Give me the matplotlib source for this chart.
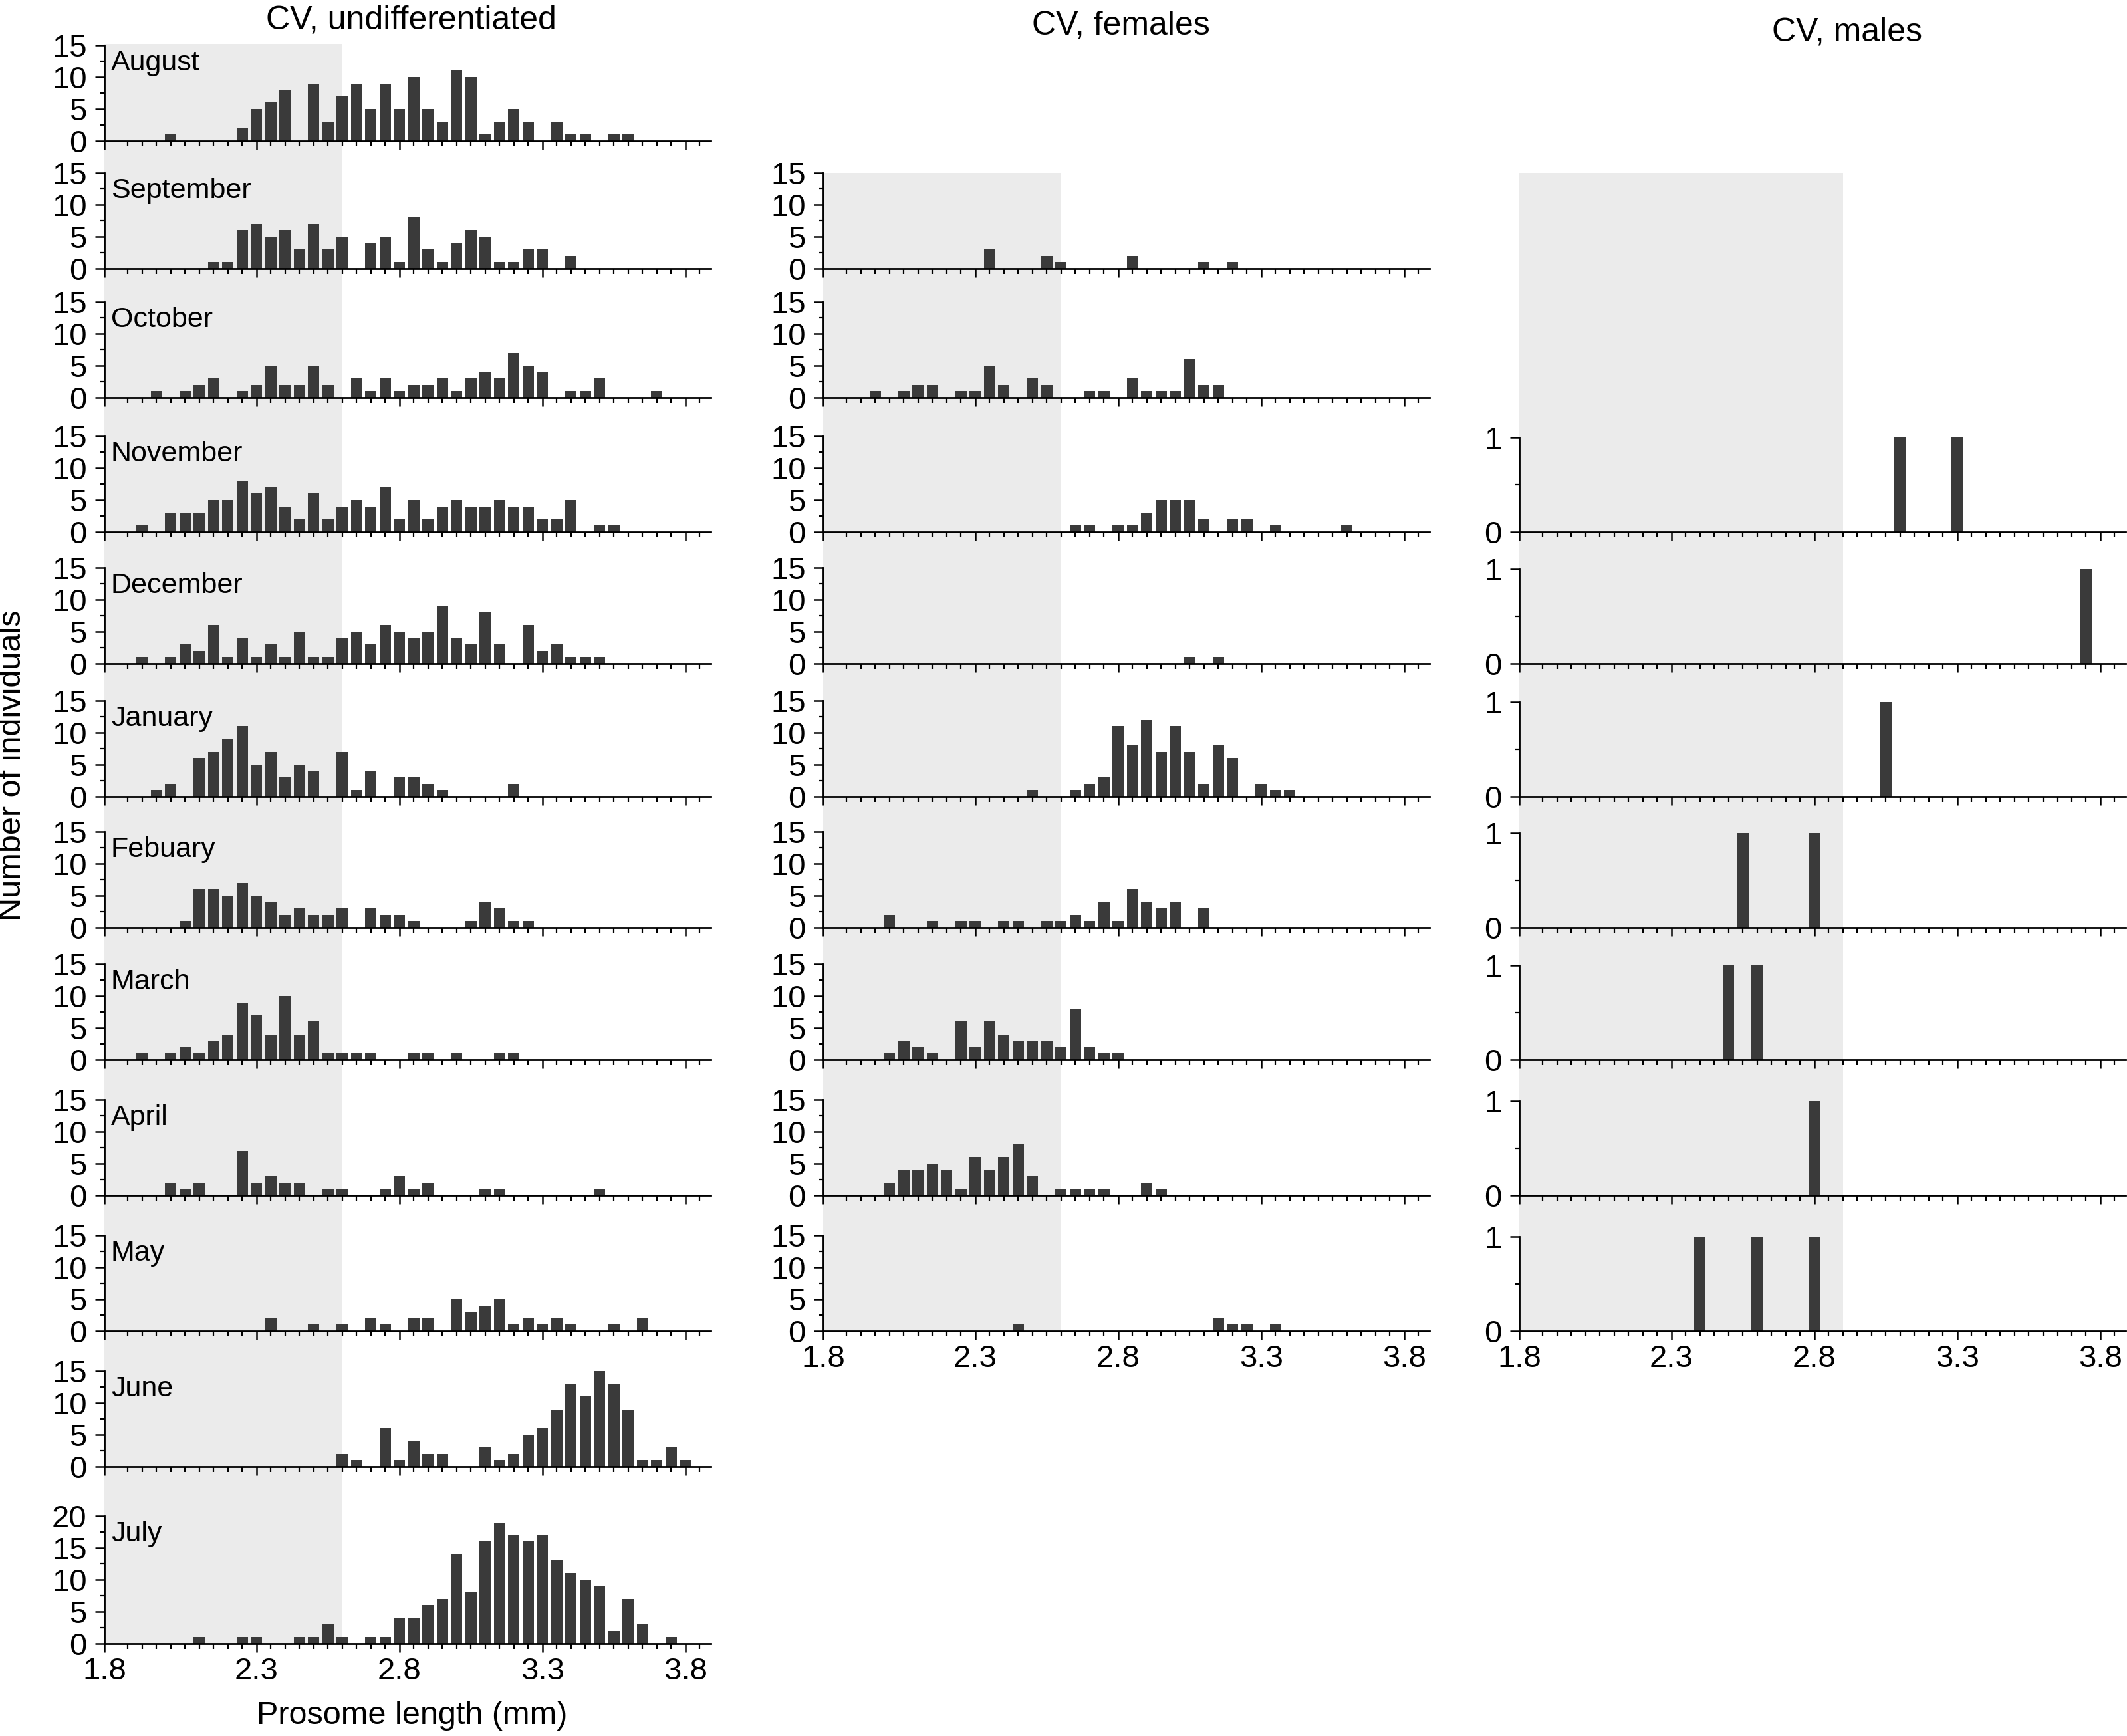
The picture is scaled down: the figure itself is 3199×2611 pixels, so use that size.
import numpy as np
import matplotlib
matplotlib.use("Agg")
import matplotlib.pyplot as plt
from matplotlib.ticker import FixedLocator

plt.rcParams["font.family"] = ["Liberation Sans", "DejaVu Sans"]

# size classes, 0.05 mm wide (bin centres in mm)
bins = np.round(1.80 + 0.05 * np.arange(41), 2)

# CV, undifferentiated (counts per size class)
und_aug = [0,0,0,0,1,0,0,0,0,2, 5,6,8,0,9,3,7,9,5,9, 5,10,5,3,11,10,1,3,5,3, 0,3,1,1,0,1,1,0,0,0, 0]
und_sep = [0,0,0,0,0,0,0,1,1,6, 7,5,6,3,7,3,5,0,4,5, 1,8,3,1,4,6,5,1,1,3, 3,0,2,0,0,0,0,0,0,0, 0]
und_oct = [0,0,0,1,0,1,2,3,0,1, 2,5,2,2,5,2,0,3,1,3, 1,2,2,3,1,3,4,3,7,5, 4,0,1,1,3,0,0,0,1,0, 0]
und_nov = [0,0,1,0,3,3,3,5,5,8, 6,7,4,2,6,2,4,5,4,7, 2,5,2,4,5,4,4,5,4,4, 2,2,5,0,1,1,0,0,0,0, 0]
und_dec = [0,0,1,0,1,3,2,6,1,4, 1,3,1,5,1,1,4,5,3,6, 5,4,5,9,4,3,8,3,0,6, 2,3,1,1,1,0,0,0,0,0, 0]
und_jan = [0,0,0,1,2,0,6,7,9,11, 5,7,3,5,4,0,7,1,4,0, 3,3,2,1,0,0,0,0,2,0, 0,0,0,0,0,0,0,0,0,0, 0]
und_feb = [0,0,0,0,0,1,6,6,5,7, 5,4,2,3,2,2,3,0,3,2, 2,1,0,0,0,1,4,3,1,1, 0,0,0,0,0,0,0,0,0,0, 0]
und_mar = [0,0,1,0,1,2,1,3,4,9, 7,4,10,4,6,1,1,1,1,0, 0,1,1,0,1,0,0,1,1,0, 0,0,0,0,0,0,0,0,0,0, 0]
und_apr = [0,0,0,0,2,1,2,0,0,7, 2,3,2,2,0,1,1,0,0,1, 3,1,2,0,0,0,1,1,0,0, 0,0,0,0,1,0,0,0,0,0, 0]
und_may = [0,0,0,0,0,0,0,0,0,0, 0,2,0,0,1,0,1,0,2,1, 0,2,2,0,5,3,4,5,1,2, 1,2,1,0,0,1,0,2,0,0, 0]
und_jun = [0,0,0,0,0,0,0,0,0,0, 0,0,0,0,0,0,2,1,0,6, 1,4,2,2,0,0,3,1,2,5, 6,9,13,11,15,13,9,1,1,3, 1]
und_jul = [0,0,0,0,0,0,1,0,0,1, 1,0,0,1,1,3,1,0,1,1, 4,4,6,7,14,8,16,19,17,16, 17,13,11,10,9,2,7,3,0,1, 0]

# CV, females
fem_sep = [0,0,0,0,0,0,0,0,0,0, 0,3,0,0,0,2,1,0,0,0, 0,2,0,0,0,0,1,0,1,0, 0,0,0,0,0,0,0,0,0,0, 0]
fem_oct = [0,0,0,1,0,1,2,2,0,1, 1,5,2,0,3,2,0,0,1,1, 0,3,1,1,1,6,2,2,0,0, 0,0,0,0,0,0,0,0,0,0, 0]
fem_nov = [0,0,0,0,0,0,0,0,0,0, 0,0,0,0,0,0,0,1,1,0, 1,1,3,5,5,5,2,0,2,2, 0,1,0,0,0,0,1,0,0,0, 0]
fem_dec = [0,0,0,0,0,0,0,0,0,0, 0,0,0,0,0,0,0,0,0,0, 0,0,0,0,0,1,0,1,0,0, 0,0,0,0,0,0,0,0,0,0, 0]
fem_jan = [0,0,0,0,0,0,0,0,0,0, 0,0,0,0,1,0,0,1,2,3, 11,8,12,7,11,7,2,8,6,0, 2,1,1,0,0,0,0,0,0,0, 0]
fem_feb = [0,0,0,0,2,0,0,1,0,1, 1,0,1,1,0,1,1,2,1,4, 1,6,4,3,4,0,3,0,0,0, 0,0,0,0,0,0,0,0,0,0, 0]
fem_mar = [0,0,0,0,1,3,2,1,0,6, 2,6,4,3,3,3,2,8,2,1, 1,0,0,0,0,0,0,0,0,0, 0,0,0,0,0,0,0,0,0,0, 0]
fem_apr = [0,0,0,0,2,4,4,5,4,1, 6,4,6,8,3,0,1,1,1,1, 0,0,2,1,0,0,0,0,0,0, 0,0,0,0,0,0,0,0,0,0, 0]
fem_may = [0,0,0,0,0,0,0,0,0,0, 0,0,0,1,0,0,0,0,0,0, 0,0,0,0,0,0,0,2,1,1, 0,1,0,0,0,0,0,0,0,0, 0]

# CV, males
mal_nov = [0,0,0,0,0,0,0,0,0,0, 0,0,0,0,0,0,0,0,0,0, 0,0,0,0,0,0,1,0,0,0, 1,0,0,0,0,0,0,0,0,0, 0]
mal_dec = [0,0,0,0,0,0,0,0,0,0, 0,0,0,0,0,0,0,0,0,0, 0,0,0,0,0,0,0,0,0,0, 0,0,0,0,0,0,0,0,0,1, 0]
mal_jan = [0,0,0,0,0,0,0,0,0,0, 0,0,0,0,0,0,0,0,0,0, 0,0,0,0,0,1,0,0,0,0, 0,0,0,0,0,0,0,0,0,0, 0]
mal_feb = [0,0,0,0,0,0,0,0,0,0, 0,0,0,0,0,1,0,0,0,0, 1,0,0,0,0,0,0,0,0,0, 0,0,0,0,0,0,0,0,0,0, 0]
mal_mar = [0,0,0,0,0,0,0,0,0,0, 0,0,0,0,1,0,1,0,0,0, 0,0,0,0,0,0,0,0,0,0, 0,0,0,0,0,0,0,0,0,0, 0]
mal_apr = [0,0,0,0,0,0,0,0,0,0, 0,0,0,0,0,0,0,0,0,0, 1,0,0,0,0,0,0,0,0,0, 0,0,0,0,0,0,0,0,0,0, 0]
mal_may = [0,0,0,0,0,0,0,0,0,0, 0,0,1,0,0,0,1,0,0,0, 1,0,0,0,0,0,0,0,0,0, 0,0,0,0,0,0,0,0,0,0, 0]

months = ["August", "September", "October", "November", "December", "January",
          "Febuary", "March", "April", "May", "June", "July"]
undiff = [und_aug, und_sep, und_oct, und_nov, und_dec, und_jan,
          und_feb, und_mar, und_apr, und_may, und_jun, und_jul]
females = dict(zip(months[1:10], [fem_sep, fem_oct, fem_nov, fem_dec, fem_jan,
                                  fem_feb, fem_mar, fem_apr, fem_may]))
males = dict(zip(months[3:10], [mal_nov, mal_dec, mal_jan, mal_feb,
                                mal_mar, mal_apr, mal_may]))
shade_end = [2.6, 2.6, 2.9]   # grey band upper limit per column (mm)

# ---- layout (pixels) ----
W, H = 3199, 2611
BAR = "#3a3a3a"
SHADE = "#ebebeb"
XLO, XHI = 1.768, 3.889
AX_W = 912
PXU = 9.6                      # px per individual in the 0-15 panels
col_x = [157, 1238, 2285]
zero_y = dict(zip(months, [212, 404, 598, 800, 998, 1198, 1395, 1594, 1798, 2002, 2206, 2472]))

fig = plt.figure(figsize=(W / 100, H / 100), dpi=100)


def rect(x0, top, w, h):
    return [x0 / W, 1 - (top + h) / H, w / W, h / H]


def shade(col, top, bottom):
    sa = fig.add_axes(rect(col_x[col], top, AX_W, bottom - top), zorder=0)
    sa.set_xlim(XLO, XHI)
    sa.set_ylim(0, 1)
    sa.axis("off")
    sa.axvspan(XLO, shade_end[col], color=SHADE, lw=0)


def panel(col, month, counts, ymax, yticks, yminor, px_per_unit, xlabels):
    h = ymax * px_per_unit
    ax = fig.add_axes(rect(col_x[col], zero_y[month] - h, AX_W, h), zorder=1)
    ax.patch.set_visible(False)
    ax.bar(bins, counts, width=0.039, color=BAR, lw=0)
    ax.set_xlim(XLO, XHI)
    ax.set_ylim(0, ymax)
    for s in ("top", "right"):
        ax.spines[s].set_visible(False)
    for s in ("left", "bottom"):
        ax.spines[s].set_linewidth(2.0)
    ax.xaxis.set_major_locator(FixedLocator([XLO, 2.3, 2.8, 3.3, 3.8]))
    ax.xaxis.set_minor_locator(FixedLocator(
        [v for v in np.arange(1.85, 3.86, 0.05) if min(abs(v - m) for m in (2.3, 2.8, 3.3, 3.8)) > 0.01]))
    ax.yaxis.set_major_locator(FixedLocator(yticks))
    ax.yaxis.set_minor_locator(FixedLocator(yminor))
    ax.set_yticklabels([str(t) for t in yticks])
    if xlabels:
        ax.set_xticklabels(["1.8", "2.3", "2.8", "3.3", "3.8"])
    else:
        ax.tick_params(axis="x", labelbottom=False)
    ax.tick_params(which="both", direction="out", color="black")
    ax.tick_params(axis="y", which="major", length=10, width=1.8, pad=9, labelsize=34)
    ax.tick_params(axis="y", which="minor", length=4.5, width=1.6)
    ax.tick_params(axis="x", which="major", length=9.5, width=1.8, pad=5, labelsize=34)
    ax.tick_params(axis="x", which="minor", length=5.5, width=1.6)
    return ax


# grey bands
shade(0, 66, zero_y["July"])
shade(1, zero_y["September"] - 15 * PXU, zero_y["May"])
shade(2, zero_y["September"] - 15 * PXU, zero_y["May"])

# left column
for month, counts in zip(months, undiff):
    if month == "July":
        panel(0, month, counts, 20, [0, 5, 10, 15, 20], [2.5, 7.5, 12.5, 17.5], PXU, True)
        top = zero_y[month] - 20 * PXU
    else:
        panel(0, month, counts, 15, [0, 5, 10, 15], [2.5, 7.5, 12.5], PXU, False)
        top = zero_y[month] - 15 * PXU
    fig.text((col_x[0] + 10) / W, 1 - (top + 38) / H, month, fontsize=31,
             ha="left", va="baseline")

# middle column
for month, counts in females.items():
    panel(1, month, counts, 15, [0, 5, 10, 15], [2.5, 7.5, 12.5], PXU, month == "May")

# right column
for month, counts in males.items():
    panel(2, month, counts, 1, [0, 1], [0.5], 142, month == "May")

# titles and axis labels
fig.text(618 / W, 1 - 44 / H, "CV, undifferentiated", fontsize=36, ha="center", va="baseline")
fig.text(1686 / W, 1 - 52 / H, "CV, females", fontsize=36, ha="center", va="baseline")
fig.text(2778 / W, 1 - 61 / H, "CV, males", fontsize=36, ha="center", va="baseline")
fig.text(620 / W, 1 - 2593 / H, "Prosome length (mm)", fontsize=35, ha="center", va="baseline")
fig.text(19 / W, 1 - 1151 / H, "Number of individuals", fontsize=35, rotation=90,
         ha="center", va="center")

fig.savefig("out.png", dpi=100, facecolor="white")
